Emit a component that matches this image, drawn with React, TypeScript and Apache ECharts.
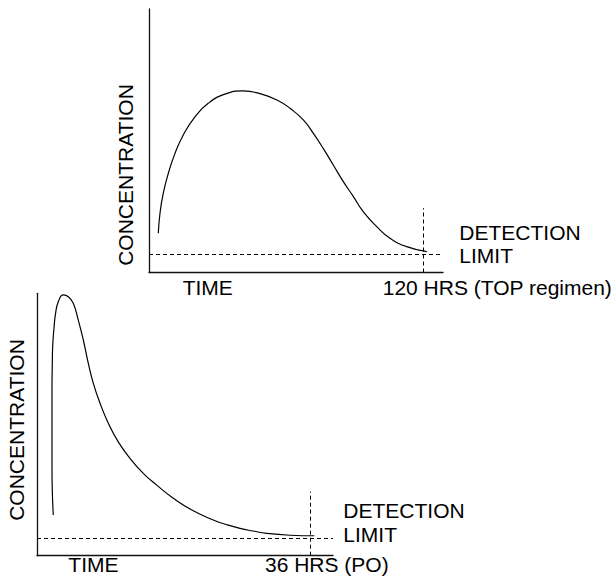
import React, { useEffect, useRef } from "react";
import * as echarts from "echarts";

// Top chart (TOP regimen): time in hours, concentration in arbitrary units (0-100)
const topHours = [4.07, 4.81, 6.25, 8.44, 11.37, 15.0, 20.1, 25.9, 33.2, 41.2, 49.3, 56.6, 61.7, 67.5, 71.9, 76.2, 80.6, 85.0, 89.4, 93.7, 99.6, 105.4, 112.7, 121.5];
const topConc = [14.9, 22.5, 30.1, 37.6, 45.2, 52.2, 59.1, 64.2, 67.7, 68.9, 67.7, 65.2, 62.3, 57.9, 52.8, 47.1, 40.8, 34.5, 28.8, 23.1, 17.4, 13.0, 9.8, 7.9];

// Bottom chart (PO): time in hours, concentration in arbitrary units (0-100)
const bottomHours = [2.14, 2.01, 1.97, 1.97, 1.97, 1.97, 2.01, 2.07, 2.24, 2.43, 2.8, 3.46, 4.12, 4.77, 5.43, 6.09, 6.75, 7.41, 8.29, 9.38, 10.69, 12.23, 13.98, 15.74, 17.93, 20.56, 23.19, 24.86, 26.7, 28.41, 30.21, 33.28, 36.47];
const bottomConc = [15.5, 25.0, 34.6, 44.1, 53.6, 63.2, 72.7, 80.3, 86.8, 92.1, 96.8, 99.4, 98.7, 96.2, 89.8, 82.2, 73.3, 65.7, 58.1, 50.5, 43.4, 37.1, 31.4, 26.9, 21.9, 17.1, 13.6, 11.9, 10.4, 9.4, 8.5, 7.8, 7.6];

const topAxisMax = [128.6, 100];
const bottomAxisMax = [38.93, 100];
const detectionLimits = [6.8, 6.6];
const cutoffHours = [120, 36];
const cutoffTop = [24.4, 24.4];

const yAxisLabel = "CONCENTRATION";
const xAxisLabel = "TIME";
const detectionLabel = ["DETECTION", "LIMIT"];
const cutoffLabels = ["120 HRS (TOP regimen)", "36 HRS (PO)"];

const FONT = "'Liberation Sans', Arial, Helvetica, sans-serif";
const FS = 21;

function pairs(xs: number[], ys: number[]) {
  return xs.map((x, i) => [x, ys[i]]);
}

function markLines(idx: number, xMax: number) {
  const dl = detectionLimits[idx];
  return {
    silent: true,
    symbol: ["none", "none"],
    label: { show: false },
    lineStyle: { color: "#000", width: 1, type: [4, 3] },
    data: [
      [{ coord: [0, dl] }, { coord: [xMax, dl] }],
      [{ coord: [cutoffHours[idx], 0] }, { coord: [cutoffHours[idx], cutoffTop[idx]] }],
    ],
  };
}

function txt(x: number, y: number, text: string, extra: any = {}) {
  return {
    type: "text",
    x,
    y,
    rotation: extra.rotation || 0,
    style: {
      text,
      fill: "#000",
      font: `${FS}px ${FONT}`,
      align: extra.align || "left",
      verticalAlign: "middle",
    },
  };
}

export default function App() {
  const ref = useRef<HTMLDivElement>(null);
  useEffect(() => {
    if (!ref.current) return;
    const chart = echarts.init(ref.current, null, { renderer: "svg" });
    const axisLine = { show: true, lineStyle: { color: "#111", width: 1.3 } };
    const hidden = {
      axisTick: { show: false },
      axisLabel: { show: false },
      splitLine: { show: false },
    };
    chart.setOption({
      animation: false,
      backgroundColor: "#fff",
      grid: [
        { left: 149, top: 9, width: 294, height: 263.5 },
        { left: 37, top: 293.3, width: 296, height: 262.4 },
      ],
      xAxis: [
        { type: "value", gridIndex: 0, min: 0, max: topAxisMax[0], axisLine, ...hidden },
        { type: "value", gridIndex: 1, min: 0, max: bottomAxisMax[0], axisLine, ...hidden },
      ],
      yAxis: [
        { type: "value", gridIndex: 0, min: 0, max: topAxisMax[1], axisLine, ...hidden },
        { type: "value", gridIndex: 1, min: 0, max: bottomAxisMax[1], axisLine, ...hidden },
      ],
      series: [
        {
          type: "line",
          xAxisIndex: 0,
          yAxisIndex: 0,
          data: pairs(topHours, topConc),
          smooth: 0.5,
          showSymbol: false,
          lineStyle: { color: "#000", width: 1.2 },
          markLine: markLines(0, topAxisMax[0]),
        },
        {
          type: "line",
          xAxisIndex: 1,
          yAxisIndex: 1,
          data: pairs(bottomHours, bottomConc),
          smooth: 0.5,
          showSymbol: false,
          lineStyle: { color: "#000", width: 1.2 },
          markLine: markLines(1, bottomAxisMax[0]),
        },
      ],
      graphic: [
        txt(125.8, 175, yAxisLabel, { rotation: Math.PI / 2, align: "center" }),
        txt(459.3, 232.2, detectionLabel[0]),
        txt(459.3, 255.8, detectionLabel[1]),
        txt(182.7, 287.2, xAxisLabel),
        txt(382.7, 287.2, cutoffLabels[0]),
        txt(16.2, 430, yAxisLabel, { rotation: Math.PI / 2, align: "center" }),
        txt(343.3, 510.5, detectionLabel[0]),
        txt(343.3, 534.2, detectionLabel[1]),
        txt(68.3, 564.7, xAxisLabel),
        txt(265, 564.7, cutoffLabels[1]),
      ],
    });
    return () => chart.dispose();
  }, []);
  return (
    <div
      ref={ref}
      style={{ position: "absolute", left: 0, top: 0, width: 616, height: 576 }}
    />
  );
}
